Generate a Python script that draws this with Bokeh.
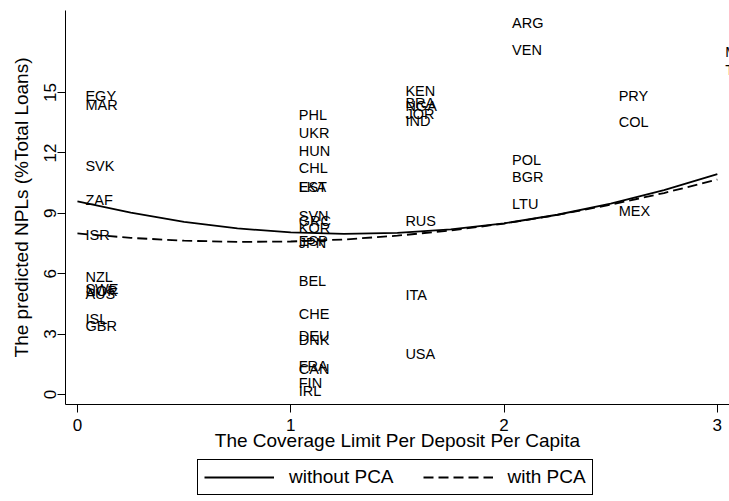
from bokeh.plotting import figure
from bokeh.layouts import column
from bokeh.models import ColumnDataSource, FixedTicker, Legend, LegendItem, Range1d
from bokeh.core.properties import value
from bokeh.embed import file_html
from bokeh.resources import INLINE

# Country labels (marker positions: coverage limit, predicted NPLs)
countries = ["EGY", "MAR", "SVK", "ZAF", "ISR", "NZL", "SWE", "NOR", "AUS", "ISL", "GBR",
             "PHL", "UKR", "HUN", "CHL", "EST", "LKA", "SVN", "GRC", "KOR", "ESP", "JPN",
             "BEL", "CHE", "DEU", "DNK", "FRA", "CAN", "FIN", "IRL",
             "KEN", "BRA", "NGA", "JOR", "IND", "RUS", "ITA", "USA",
             "ARG", "VEN", "POL", "BGR", "LTU",
             "PRY", "COL", "MEX",
             "MYS", "TUR"]
coverage = [0, 0, 0, 0, 0, 0, 0, 0, 0, 0, 0,
            1, 1, 1, 1, 1, 1, 1, 1, 1, 1, 1,
            1, 1, 1, 1, 1, 1, 1, 1,
            1.5, 1.5, 1.5, 1.5, 1.5, 1.5, 1.5, 1.5,
            2, 2, 2, 2, 2,
            2.5, 2.5, 2.5,
            3, 3]
npl = [14.85, 14.36, 11.33, 9.64, 7.9, 5.86, 5.22, 5.12, 4.97, 3.73, 3.38,
       13.91, 13.0, 12.12, 11.26, 10.3, 10.3, 8.89, 8.6, 8.25, 7.65, 7.55,
       5.66, 4.01, 2.88, 2.73, 1.39, 1.24, 0.56, 0.16,
       15.07, 14.46, 14.31, 13.94, 13.58, 8.64, 4.92, 1.99,
       18.45, 17.12, 11.66, 10.8, 9.47,
       14.85, 13.53, 9.1,
       17.0, 16.1]

# Fitted curves
curve_x = [0, 0.25, 0.5, 0.75, 1.0, 1.25, 1.5, 1.75, 2.0, 2.25, 2.5, 2.75, 3.0]
without_pca = [9.6, 9.03, 8.58, 8.25, 8.05, 7.98, 8.03, 8.2, 8.5, 8.93, 9.48, 10.15, 10.95]
with_pca = [8.0, 7.78, 7.64, 7.58, 7.6, 7.7, 7.89, 8.15, 8.49, 8.92, 9.43, 10.01, 10.68]

x_ticks = [0, 1, 2, 3]
y_ticks = [0, 3, 6, 9, 12, 15]

FONT = "Liberation Sans"

p = figure(width=729, height=457, output_backend="svg", toolbar_location=None,
           x_range=Range1d(-0.056, 3.057), y_range=Range1d(-0.5, 19.08),
           min_border_left=65, min_border_right=0, min_border_top=10, min_border_bottom=53)
p.outline_line_color = None
p.xgrid.visible = False
p.ygrid.visible = False
p.background_fill_color = "white"
p.border_fill_color = "white"

src = ColumnDataSource(dict(x=coverage, y=npl, t=countries))
p.text("x", "y", text="t", source=src, x_offset=8, text_align="left", text_baseline="middle",
       text_font=value(FONT), text_font_size="14.5px", text_color="black")

p.line(curve_x, without_pca, line_color="black", line_width=1.8)
p.line(curve_x, with_pca, line_color="black", line_width=1.8, line_dash="10 5")

for ax in (p.xaxis[0], p.yaxis[0]):
    ax.axis_line_color = "black"
    ax.major_tick_line_color = "black"
    ax.minor_tick_line_color = None
    ax.major_tick_in = 0
    ax.major_tick_out = 8
    ax.major_label_text_font = FONT
    ax.major_label_text_font_size = "17px"
    ax.major_label_text_color = "black"
    ax.axis_label_text_font = FONT
    ax.axis_label_text_font_size = "19px"
    ax.axis_label_text_font_style = "normal"
    ax.axis_label_text_color = "black"

p.xaxis.ticker = FixedTicker(ticks=x_ticks)
p.yaxis.ticker = FixedTicker(ticks=y_ticks)
p.xaxis.axis_label = "The Coverage Limit Per Deposit Per Capita"
p.yaxis.axis_label = "The predicted NPLs (%Total Loans)"
p.yaxis.major_label_orientation = "vertical"
p.xaxis.major_label_standoff = 6
p.xaxis.axis_label_standoff = -4
p.yaxis.major_label_standoff = 1
p.yaxis.axis_label_standoff = 10

# Legend strip below the plot
lg = figure(width=729, height=44, output_backend="svg", toolbar_location=None,
            x_range=Range1d(0, 1), y_range=Range1d(0, 1),
            x_axis_type=None, y_axis_type=None,
            min_border_left=0, min_border_right=0, min_border_top=0, min_border_bottom=0)
lg.outline_line_color = None
lg.xgrid.visible = False
lg.ygrid.visible = False
l1 = lg.line([-2, -1], [-2, -1], line_color="black", line_width=1.8)
l2 = lg.line([-2, -1], [-2, -1], line_color="black", line_width=1.8, line_dash="10 5")

legend = Legend(items=[LegendItem(label="without PCA", renderers=[l1]),
                       LegendItem(label="with PCA", renderers=[l2])],
                orientation="horizontal", location=(132, 6))
legend.label_text_font = FONT
legend.label_text_font_size = "19px"
legend.label_text_color = "black"
legend.glyph_width = 70
legend.glyph_height = 20
legend.label_standoff = 15
legend.spacing = 29
legend.padding = 6
legend.margin = 0
legend.border_line_color = "black"
legend.border_line_width = 1
legend.border_line_alpha = 1
legend.background_fill_color = "white"
lg.add_layout(legend)

layout = column(p, lg, spacing=0)
open("out.html", "w").write(file_html(layout, INLINE))
